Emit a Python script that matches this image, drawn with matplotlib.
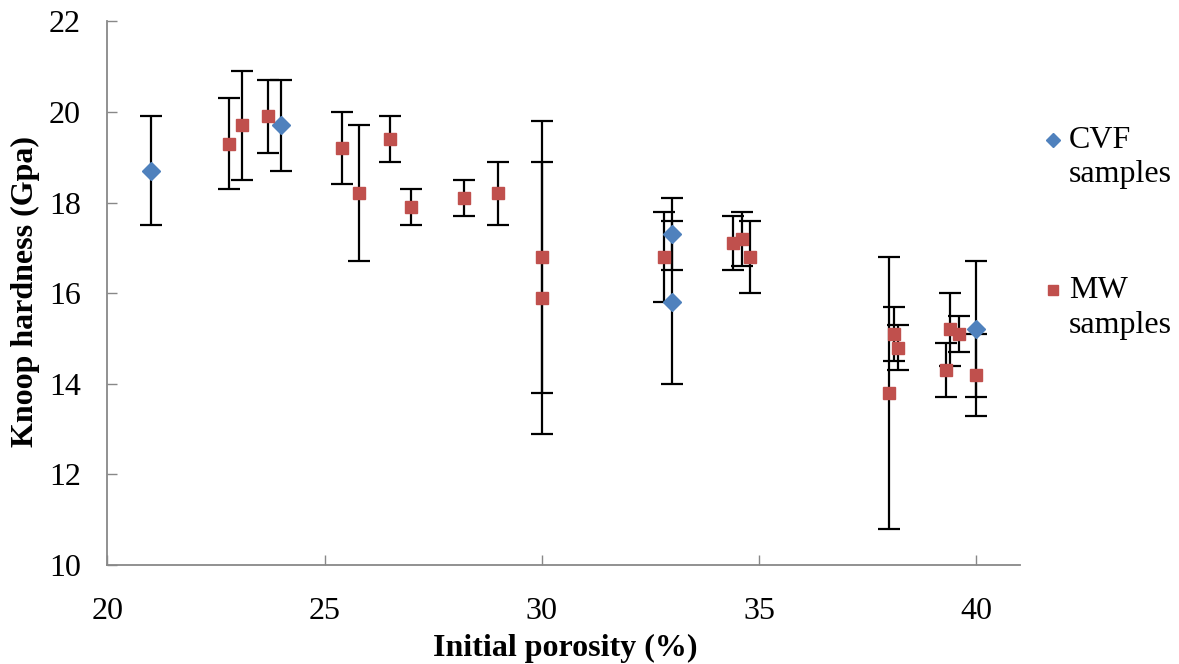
import matplotlib
matplotlib.use('Agg')
import matplotlib.pyplot as plt
from matplotlib.lines import Line2D

plt.rcParams['font.family'] = ['Liberation Serif', 'DejaVu Serif']

# CVF samples
cvf_x = [21.0, 24.0, 33.0, 33.0, 40.0]
cvf_y = [18.7, 19.7, 17.3, 15.8, 15.2]
cvf_err = [1.2, 1.0, 0.8, 1.8, 1.5]

# MW samples
mw_x = [22.8, 23.1, 23.7, 25.4, 25.8, 26.5, 27.0, 28.2, 29.0, 30.0, 30.0,
        32.8, 34.4, 34.6, 34.8, 38.0, 38.1, 38.2, 39.3, 39.4, 39.6, 40.0]
mw_y = [19.3, 19.7, 19.9, 19.2, 18.2, 19.4, 17.9, 18.1, 18.2, 16.8, 15.9,
        16.8, 17.1, 17.2, 16.8, 13.8, 15.1, 14.8, 14.3, 15.2, 15.1, 14.2]
mw_err = [1.0, 1.2, 0.8, 0.8, 1.5, 0.5, 0.4, 0.4, 0.7, 3.0, 3.0,
          1.0, 0.6, 0.6, 0.8, 3.0, 0.6, 0.5, 0.6, 0.8, 0.4, 0.9]

x_ticks = [20, 25, 30, 35, 40]
y_ticks = [10, 12, 14, 16, 18, 20, 22]

blue = '#4F81BD'
red = '#C0504D'
W, H = 1179, 664

fig = plt.figure(figsize=(W / 100, H / 100), dpi=100)
ax = fig.add_axes([0.091, 0.149, 0.774, 0.819])

ax.errorbar(cvf_x, cvf_y, yerr=cvf_err, fmt='D', color=blue, ms=9.5,
            ecolor='black', elinewidth=1.6, capsize=8, capthick=1.6, zorder=3)
ax.errorbar(mw_x, mw_y, yerr=mw_err, fmt='s', color=red, ms=9,
            ecolor='black', elinewidth=1.6, capsize=8, capthick=1.6, zorder=3)

ax.set_xlim(20, 41)
ax.set_ylim(10, 22)
ax.set_xticks(x_ticks)
ax.set_yticks(y_ticks)

for s in ['top', 'right']:
    ax.spines[s].set_visible(False)
for s in ['left', 'bottom']:
    ax.spines[s].set_color('#888888')
    ax.spines[s].set_linewidth(1.3)

ax.tick_params(axis='both', direction='in', length=7, width=1.0,
               color='#888888', labelsize=23)
ax.tick_params(axis='x', pad=23)
ax.tick_params(axis='y', pad=19)

# axis titles
fig.text(565 / W, 1 - 648 / H, 'Initial porosity (%)', fontsize=23,
         fontweight='bold', ha='center', va='center')
fig.text(25 / W, 1 - 292 / H, 'Knoop hardness (Gpa)', fontsize=23,
         fontweight='bold', ha='center', va='center', rotation=90)

# legend, marker next to the first line of each label
legend = [('D', blue, 7.5, 'CVF', 140), ('s', red, 7, 'MW', 290)]
for mk, col, sz, name, yc in legend:
    fig.add_artist(Line2D([1053 / W], [1 - yc / H], transform=fig.transFigure,
                          marker=mk, color=col, ms=sz, ls='none'))
    fig.text(1069 / W, 1 - yc / H, name, fontsize=23, va='center', ha='left')
    fig.text(1069 / W, 1 - (yc + 35) / H, 'samples', fontsize=23,
             va='center', ha='left')

fig.savefig('out.png', dpi=100)
